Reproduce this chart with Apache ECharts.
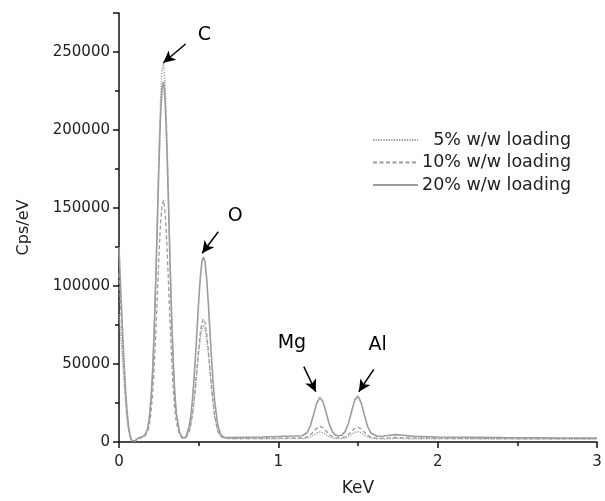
<!DOCTYPE html>
<html>
<head>
<meta charset="utf-8">
<script src="https://cdn.jsdelivr.net/npm/echarts@6/dist/echarts.min.js"></script>
<style>
  html, body { margin: 0; padding: 0; background: #fff; }
  #main { width: 605px; height: 501px; }
</style>
</head>
<body>
<div id="main"></div>
<script>
// energy axis (KeV) - sampled denser around the peaks
var keV = [0, 0.01, 0.02, 0.03, 0.04, 0.05, 0.06, 0.07, 0.08, 0.09, 0.10,
  0.12, 0.14, 0.16, 0.18,
  0.19, 0.20, 0.21, 0.22, 0.23, 0.24, 0.25, 0.26, 0.27, 0.28, 0.29, 0.30, 0.31, 0.32, 0.33, 0.34, 0.35, 0.36,
  0.38, 0.40, 0.42,
  0.44, 0.45, 0.46, 0.47, 0.48, 0.49, 0.50, 0.51, 0.52, 0.53, 0.54, 0.55, 0.56, 0.57, 0.58, 0.59, 0.60,
  0.62, 0.64, 0.66, 0.70,
  0.80, 0.90, 1.00, 1.10,
  1.15, 1.18,
  1.20, 1.22, 1.24, 1.26, 1.28, 1.30, 1.32, 1.34, 1.36, 1.38, 1.40, 1.42, 1.44, 1.46, 1.48, 1.50, 1.52, 1.54, 1.56, 1.58,
  1.62, 1.66, 1.70, 1.74, 1.78, 1.85,
  2.00, 2.20, 2.40, 2.60, 2.80, 3.00];

// Cps/eV, 5% w/w loading (dotted)
var load5 = [82000, 70000, 56000, 41000, 27000, 15000, 7500, 3000, 800, 0, 600,
  2000, 2600, 4000, 8500,
  15500, 27000, 45000, 71000, 105000, 144000, 184000, 218000, 239000, 243000, 228000, 200000, 162000, 121000, 84000, 54000, 32000, 18500,
  6000, 2300, 3000,
  6500, 10500, 16500, 24500, 34500, 45500, 57000, 66000, 72500, 75000, 72500, 66000, 57000, 45500, 34500, 24500, 16500,
  6500, 3200, 2300, 2100,
  2000, 2000, 2100, 2100,
  2100, 2400,
  3200, 4400, 5800, 6500, 6000, 4700, 3400, 2500, 2200, 2100, 2200, 2600, 3500, 4900, 6200, 6600, 5800, 4400, 3200, 2400,
  2000, 2000, 2100, 2300, 2200, 2000,
  2000, 1950, 1900, 1900, 1850, 1800];

// Cps/eV, 10% w/w loading (dashed)
var load10 = [108000, 88000, 68000, 49000, 32000, 18000, 9000, 3500, 900, 0, 700,
  2200, 2800, 3500, 6500,
  10500, 18000, 29500, 46000, 67500, 92000, 117500, 139000, 152000, 155000, 146000, 128000, 103500, 77500, 54000, 35000, 21000, 12500,
  4500, 2200, 2800,
  7000, 11000, 17500, 26000, 36500, 48000, 60000, 70000, 76500, 79000, 76500, 70000, 60000, 48000, 36500, 26000, 17500,
  7000, 3500, 2500, 2300,
  2300, 2400, 2500, 2600,
  2600, 3200,
  4500, 6600, 8800, 10000, 9200, 7100, 4800, 3400, 2800, 2600, 2800, 3400, 4800, 6900, 8800, 9500, 8300, 6200, 4300, 3100,
  2500, 2500, 2700, 2900, 2700, 2500,
  2400, 2300, 2300, 2200, 2200, 2100];

// Cps/eV, 20% w/w loading (solid)
var load20 = [125000, 100000, 76000, 54000, 35000, 20000, 10000, 4000, 1000, 0, 800,
  2500, 3200, 4000, 8500,
  15000, 26000, 43000, 68000, 100000, 137000, 175000, 207000, 227000, 231000, 217000, 190000, 154000, 115000, 80000, 52000, 31000, 18000,
  6000, 2500, 3200,
  10000, 16500, 26000, 39000, 55000, 72500, 90000, 105000, 115500, 118600, 115500, 105000, 90000, 72500, 55000, 39000, 26500,
  10500, 4500, 3000, 2800,
  3000, 3200, 3500, 3800,
  4000, 5900,
  10100, 17100, 24600, 28500, 25900, 18700, 11300, 6500, 4400, 3900, 4500, 6800, 11900, 19700, 27000, 29400, 25100, 17200, 10100, 5900,
  3700, 3800, 4300, 4700, 4300, 3600,
  3200, 3000, 2800, 2700, 2600, 2500];

var seriesNames = ['5% w/w loading', '10% w/w loading', '20% w/w loading'];
var peakNames = ['C', 'O', 'Mg', 'Al'];

function pairs(ys) {
  return keV.map(function (x, i) { return [x, ys[i]]; });
}

var myChart = echarts.init(document.getElementById('main'));

var lineColor = '#9c9c9c';
var font = 'DejaVu Sans';

var option = {
  animation: false,
  textStyle: { fontFamily: font },
  grid: { left: 119, right: 8, top: 13, bottom: 59, outerBoundsMode: 'none' },
  legend: {
    orient: 'vertical',
    left: 372,
    top: 131,
    padding: 0,
    itemWidth: 45,
    itemHeight: 14,
    itemGap: 4.5,
    data: seriesNames,
    itemStyle: { opacity: 0 },
    formatter: function (name) { return '{t|' + name + '}'; },
    textStyle: {
      fontFamily: font,
      color: '#222',
      rich: { t: { width: 148, align: 'right', fontSize: 17.5, lineHeight: 18, fontFamily: font, color: '#222' } }
    }
  },
  xAxis: {
    type: 'value',
    min: 0,
    max: 3,
    interval: 1,
    name: 'KeV',
    nameLocation: 'middle',
    nameGap: 38,
    nameTextStyle: { fontSize: 17, color: '#222', fontFamily: font },
    axisLine: { lineStyle: { color: '#111', width: 1.5 } },
    axisTick: { length: 6, lineStyle: { color: '#111', width: 1.5 } },
    minorTick: { show: true, splitNumber: 2, length: 4, lineStyle: { color: '#111', width: 1.5 } },
    splitLine: { show: false },
    axisLabel: { fontSize: 15, color: '#222', margin: 13 }
  },
  yAxis: {
    type: 'value',
    min: 0,
    max: 275000,
    interval: 50000,
    name: 'Cps/eV',
    nameLocation: 'middle',
    nameGap: 87,
    nameTextStyle: { fontSize: 16, color: '#222', fontFamily: font },
    axisLine: { show: true, lineStyle: { color: '#111', width: 1.5 } },
    axisTick: { show: true, length: 6, lineStyle: { color: '#111', width: 1.5 } },
    minorTick: { show: true, splitNumber: 2, length: 4, lineStyle: { color: '#111', width: 1.5 } },
    splitLine: { show: false },
    axisLabel: {
      fontSize: 15, color: '#222', margin: 9, showMaxLabel: false,
      formatter: function (v) { return String(v); }
    }
  },
  series: [
    {
      name: seriesNames[0],
      type: 'line',
      symbol: 'none',
      data: pairs(load5),
      lineStyle: { color: lineColor, width: 1.3, type: [1.3, 1.3] },
      itemStyle: { color: lineColor },
      z: 3
    },
    {
      name: seriesNames[1],
      type: 'line',
      symbol: 'none',
      data: pairs(load10),
      lineStyle: { color: lineColor, width: 1.3, type: [4, 2.5] },
      itemStyle: { color: lineColor },
      z: 2
    },
    {
      name: seriesNames[2],
      type: 'line',
      symbol: 'none',
      data: pairs(load20),
      lineStyle: { color: lineColor, width: 1.6 },
      itemStyle: { color: lineColor },
      z: 4,
      markLine: {
        silent: true,
        symbol: ['none', 'arrow'],
        symbolSize: [9, 12],
        label: { show: false },
        lineStyle: { color: '#000', width: 1.5, type: 'solid' },
        data: [
          [{ coord: [0.418, 255100] }, { coord: [0.278, 243100] }],
          [{ coord: [0.623, 134800] }, { coord: [0.522, 121000] }],
          [{ coord: [1.160, 48300] }, { coord: [1.235, 32200] }],
          [{ coord: [1.599, 46600] }, { coord: [1.505, 32200] }]
        ]
      },
      markPoint: {
        silent: true,
        symbol: 'circle',
        symbolSize: 0,
        label: {
          show: true,
          position: 'inside',
          fontSize: 19,
          color: '#000',
          fontFamily: font,
          formatter: function (p) { return p.name; }
        },
        data: [
          { name: peakNames[0], coord: [0.536, 260900] },
          { name: peakNames[1], coord: [0.729, 144900] },
          { name: peakNames[2], coord: [1.085, 63500] },
          { name: peakNames[3], coord: [1.624, 62200] }
        ]
      }
    }
  ]
};

myChart.setOption(option);
</script>
</body>
</html>
